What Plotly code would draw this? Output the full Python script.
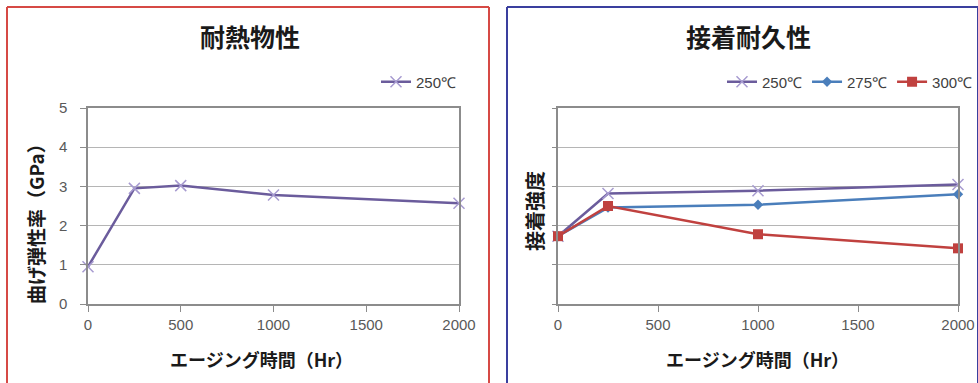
import plotly.graph_objects as go

W, H = 978, 383

# ---- data ----
hours_left = [0, 250, 500, 1000, 2000]
modulus_250 = [0.95, 2.95, 3.02, 2.78, 2.57]

hours_right = [0, 250, 1000, 2000]
adhesion_250 = [1.73, 2.82, 2.89, 3.05]
adhesion_275 = [1.73, 2.46, 2.53, 2.80]
adhesion_300 = [1.73, 2.50, 1.78, 1.42]

x_ticks = [0, 500, 1000, 1500, 2000]
y_ticks = [0, 1, 2, 3, 4, 5]

title_left = "耐熱物性"
title_right = "接着耐久性"
xlabel = "エージング時間（Hr）"
ylabel_left = "曲げ弾性率（GPa）"
ylabel_right = "接着強度"

C250_LINE = "#6B5C9C"
C250_MARK = "#A79BD0"
C275 = "#4A7EBB"
C300 = "#C0413F"

def px(x):
    return x / W

def py(y):
    return 1 - y / H

CJK = "Noto Sans CJK JP"
TICKF = dict(family="Liberation Sans, Arial", size=15, color="#595959")

fig = go.Figure()

fig.add_trace(go.Scatter(
    x=hours_left, y=modulus_250, mode="lines+markers", name="250℃",
    line=dict(color=C250_LINE, width=2.5),
    marker=dict(symbol="x-thin", size=11, line=dict(color=C250_MARK, width=1.5)),
    xaxis="x", yaxis="y", cliponaxis=False, legend="legend"))

fig.add_trace(go.Scatter(
    x=hours_right, y=adhesion_250, mode="lines+markers", name="250℃",
    line=dict(color=C250_LINE, width=2.5),
    marker=dict(symbol="x-thin", size=11, line=dict(color=C250_MARK, width=1.5)),
    xaxis="x2", yaxis="y2", cliponaxis=False, legend="legend2"))
fig.add_trace(go.Scatter(
    x=hours_right, y=adhesion_275, mode="lines+markers", name="275℃",
    line=dict(color=C275, width=2.5),
    marker=dict(symbol="diamond", size=8, color=C275),
    xaxis="x2", yaxis="y2", cliponaxis=False, legend="legend2"))
fig.add_trace(go.Scatter(
    x=hours_right, y=adhesion_300, mode="lines+markers", name="300℃",
    line=dict(color=C300, width=2.5),
    marker=dict(symbol="square", size=10, color=C300),
    xaxis="x2", yaxis="y2", cliponaxis=False, legend="legend2"))

ydom = [py(304), py(108)]
common_x = dict(range=[0, 2000], tickvals=x_ticks, showgrid=False, zeroline=False,
                showline=True, linecolor="#8C8C8C", linewidth=1.5, mirror=True,
                ticks="outside", ticklen=6, tickcolor="#8C8C8C", tickfont=TICKF,
                automargin=False)
common_y = dict(range=[0, 5], tickvals=y_ticks, showgrid=True, gridcolor="#B5B5B5",
                gridwidth=1, zeroline=False, showline=True, linecolor="#8C8C8C",
                linewidth=1.5, mirror=True, domain=ydom, automargin=False)

LEGF = dict(family="Liberation Sans, Arial", size=15, color="#404040")

fig.update_layout(
    width=W, height=H, margin=dict(l=0, r=0, t=0, b=0, pad=0, autoexpand=False),
    autosize=False,
    paper_bgcolor="white", plot_bgcolor="white",
    xaxis=dict(domain=[px(88), px(459)], anchor="y", **common_x),
    yaxis=dict(anchor="x", ticks="outside", ticklen=6, tickcolor="#8C8C8C",
               tickfont=TICKF, ticklabelstandoff=10, **common_y),
    xaxis2=dict(domain=[px(558), px(958)], anchor="y2", **common_x),
    yaxis2=dict(anchor="x2", showticklabels=False, ticks="outside", ticklen=4,
                tickcolor="#8C8C8C", **common_y),
    legend=dict(orientation="h", x=px(376), y=py(82), xanchor="left", yanchor="middle",
                font=LEGF, bgcolor="rgba(0,0,0,0)", itemwidth=30, tracegroupgap=0),
    legend2=dict(orientation="h", x=px(722), y=py(82), xanchor="left", yanchor="middle",
                 font=LEGF, bgcolor="rgba(0,0,0,0)", itemwidth=30, tracegroupgap=0),
    showlegend=True,
)

# panel borders (left, top, right sides; bottom runs off the picture)
def border(x0, x1, color):
    for (a, b, c, d) in [(x0, H, x0, 7), (x0, 7, x1, 7), (x1, 7, x1, H)]:
        fig.add_shape(type="line", xref="paper", yref="paper",
                      x0=px(a), y0=py(b), x1=px(c), y1=py(d),
                      line=dict(color=color, width=2))

border(7, 489, "#D64A45")
border(507, 978, "#3A3F9E")

def ann(text, x, y, size, angle=0):
    fig.add_annotation(text=text, x=px(x), y=py(y), xref="paper", yref="paper",
                       showarrow=False, textangle=angle, xanchor="center", yanchor="middle",
                       font=dict(family=CJK, size=size, color="#1A1A1A"))

ann("<b>" + title_left + "</b>", 250, 36, 25)
ann("<b>" + title_right + "</b>", 748, 36, 25)
ann("<b>" + xlabel + "</b>", 261, 359, 18)
ann("<b>" + xlabel + "</b>", 757, 359, 18)
ann("<b>" + ylabel_left + "</b>", 35, 219, 19, -90)
ann("<b>" + ylabel_right + "</b>", 534, 211, 20, -90)

fig.write_html("out.html", config={"displayModeBar": False},
               post_script="document.body.style.margin='0';document.body.style.overflow='hidden';")
